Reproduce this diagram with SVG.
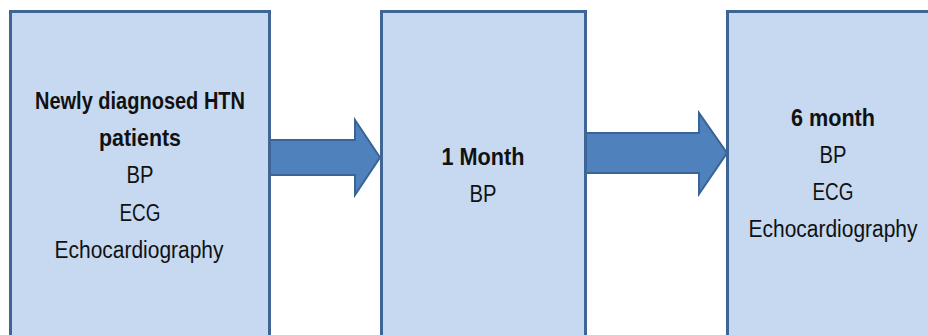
<svg xmlns="http://www.w3.org/2000/svg" width="928" height="335" viewBox="0 0 928 335">
  <style>
    .box { fill: #c6d9f1; stroke: #3e6594; stroke-width: 3; }
    .arrow { fill: #4f81bd; stroke: #3a6396; stroke-width: 2; stroke-linejoin: miter; }
    text { font-family: "Liberation Sans", Arial, sans-serif; font-size: 23px; fill: #111; text-anchor: middle; }
    .b { font-weight: bold; }
  </style>
  <rect width="928" height="335" fill="#ffffff"/>

  <g id="connectors">
    <path class="arrow" d="M269,140 H355 V120 L380,157.5 L355,195 V175 H269 Z"/>
    <path class="arrow" d="M585,133 H699 V113 L727,153 L699,194 V173 H585 Z"/>
  </g>

  <g id="baseline">
    <rect class="box" x="10.5" y="11.5" width="259" height="340"/>
    <text class="b" x="140" y="109" textLength="210" lengthAdjust="spacingAndGlyphs">Newly diagnosed HTN</text>
    <text class="b" x="140" y="146" textLength="82" lengthAdjust="spacingAndGlyphs">patients</text>
    <text x="140" y="183" textLength="27" lengthAdjust="spacingAndGlyphs">BP</text>
    <text x="140" y="221" textLength="41" lengthAdjust="spacingAndGlyphs">ECG</text>
    <text x="139" y="258" textLength="169" lengthAdjust="spacingAndGlyphs">Echocardiography</text>
  </g>

  <g id="month1">
    <rect class="box" x="381.5" y="11.5" width="204" height="340"/>
    <text class="b" x="483" y="165" textLength="83" lengthAdjust="spacingAndGlyphs">1 Month</text>
    <text x="483" y="202" textLength="27" lengthAdjust="spacingAndGlyphs">BP</text>
  </g>

  <g id="month6">
    <rect class="box" x="727.5" y="11.5" width="220" height="340"/>
    <text class="b" x="833" y="126" textLength="84" lengthAdjust="spacingAndGlyphs">6 month</text>
    <text x="833" y="163" textLength="27" lengthAdjust="spacingAndGlyphs">BP</text>
    <text x="833" y="200" textLength="41" lengthAdjust="spacingAndGlyphs">ECG</text>
    <text x="833" y="237" textLength="169" lengthAdjust="spacingAndGlyphs">Echocardiography</text>
  </g>
</svg>
